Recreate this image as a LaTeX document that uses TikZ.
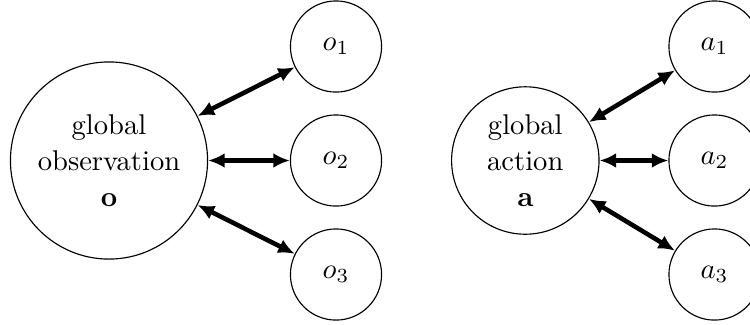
\documentclass[tikz,border=0pt]{standalone}
\usetikzlibrary{arrows.meta}
\begin{document}
\begin{tikzpicture}[x=0.35pt,y=-0.35pt,
  bignode/.style={draw,circle,line width=0.4pt,inner sep=0pt,align=center,font=\fontsize{10}{12.6}\selectfont},
  agent/.style={draw,circle,line width=0.4pt,inner sep=0pt,minimum size=31.9pt,font=\fontsize{10}{12}\selectfont},
  link/.style={line width=1.6pt,{Latex[length=5.8pt,width=5.2pt]}-{Latex[length=5.8pt,width=5.2pt]}}]
\useasboundingbox (0,0) rectangle (750,324);
% observation side
\node[bignode,minimum size=69pt] (obs) at (109,160.5) {global\\observation\\$\mathbf{o}$};
\node[agent] (o1) at (336,46.5) {$o_1$};
\node[agent] (o2) at (336,160.5) {$o_2$};
\node[agent] (o3) at (336,274.5) {$o_3$};
\draw[link] (obs) -- (o1);
\draw[link] (obs) -- (o2);
\draw[link] (obs) -- (o3);
% action side
\node[bignode,minimum size=51.6pt] (act) at (525.3,160.5) {global\\action\\$\mathbf{a}$};
\node[agent] (a1) at (714.5,46.5) {$a_1$};
\node[agent] (a2) at (714.5,160.5) {$a_2$};
\node[agent] (a3) at (714.5,274.5) {$a_3$};
\draw[link] (act) -- (a1);
\draw[link] (act) -- (a2);
\draw[link] (act) -- (a3);
\end{tikzpicture}
\end{document}
